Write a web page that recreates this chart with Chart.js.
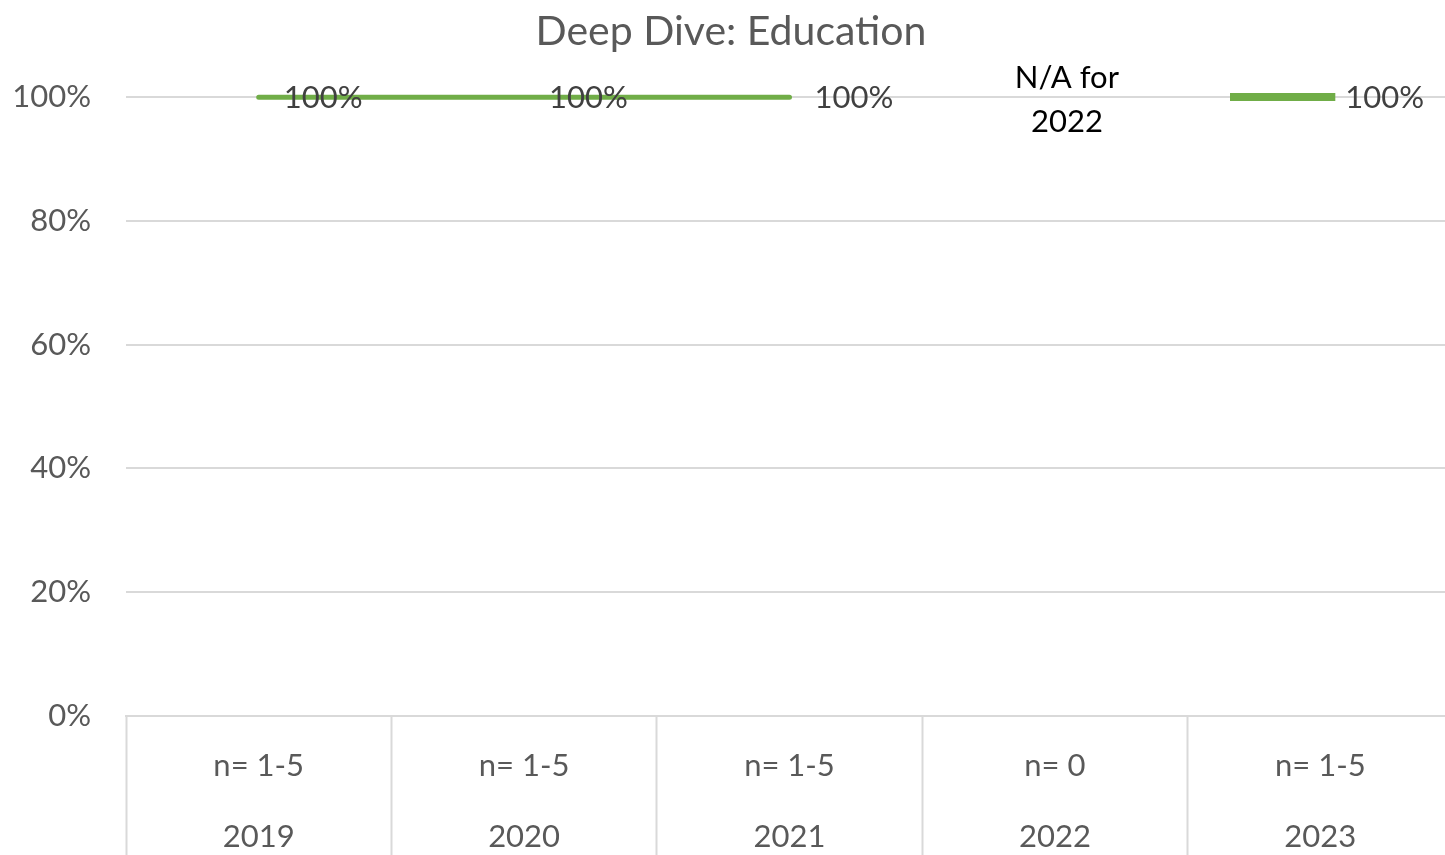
<!DOCTYPE html>
<html>
<head>
<meta charset="utf-8">
<title>Deep Dive: Education</title>
<script src="https://cdn.jsdelivr.net/npm/chart.js@4.4.1/dist/chart.umd.min.js"></script>
<style>
  html, body { margin: 0; padding: 0; background: #ffffff; overflow: hidden; }
  #wrap { width: 1445px; height: 855px; overflow: hidden; }
</style>
</head>
<body>
<div id="wrap"><canvas id="eduChart" width="1462" height="855"></canvas></div>
<script>
// data
var years = ['2019', '2020', '2021', '2022', '2023'];
var sampleSizes = ['n= 1-5', 'n= 1-5', 'n= 1-5', 'n= 0', 'n= 1-5'];
var shareValues = [1, 1, 1, null, 1];
var naNote = ['N/A for', '2022'];
var naYear = '2022';

var GREEN = '#70ad47';
var GREY = '#595959';
var GRID = '#d9d9d9';
var FONT = 'Lato';

// two-level category labels
var xLabels = years.map(function (y, i) { return [sampleSizes[i], y]; });

// dash marker used for the lone 2023 point (drawn mostly left of the point, like the original)
var dash = document.createElement('canvas');
dash.width = 180;
dash.height = 8;
var dctx = dash.getContext('2d');
dctx.fillStyle = GREEN;
dctx.fillRect(0, 0, 105, 8);

// value labels + the N/A note
var labelPlugin = {
    id: 'valueLabels',
    afterDatasetsDraw: function (chart) {
        var ctx = chart.ctx;
        var meta = chart.getDatasetMeta(0);
        ctx.save();
        ctx.font = '31px ' + FONT;
        ctx.textBaseline = 'middle';
        ctx.textAlign = 'left';
        ctx.fillStyle = '#404040';
        meta.data.forEach(function (pt, i) {
            var v = shareValues[i];
            if (v === null) return;
            ctx.fillText(Math.round(v * 100) + '%', pt.x + 25, pt.y + 1);
        });
        // note for the missing year
        var xs = chart.scales.x;
        var ys = chart.scales.y;
        var nx = xs.getPixelForValue(years.indexOf(naYear)) + 12;
        var ny = ys.getPixelForValue(1);
        ctx.textAlign = 'center';
        ctx.fillStyle = '#000000';
        ctx.fillText(naNote[0], nx, ny - 19);
        ctx.fillText(naNote[1], nx, ny + 25);
        ctx.restore();
    }
};

var ctx = document.getElementById('eduChart');

if (ctx) {
    var eduChart = new Chart(ctx, {
        type: 'line',
        data: {
            labels: xLabels,
            datasets: [{
                label: 'Education',
                data: shareValues,
                borderColor: GREEN,
                backgroundColor: GREEN,
                borderWidth: 5,
                borderCapStyle: 'round',
                spanGaps: false,
                tension: 0,
                clip: false,
                pointStyle: function (c) { return c.dataIndex === 4 ? dash : 'circle'; },
                pointRadius: function (c) { return c.dataIndex === 4 ? 4 : 0; },
                pointHoverRadius: 0
            }]
        },
        options: {
            responsive: false,
            animation: false,
            layout: { padding: 0 },
            scales: {
                x: {
                    offset: true,
                    grid: {
                        offset: true,
                        drawOnChartArea: false,
                        drawTicks: true,
                        tickLength: 139,
                        tickColor: GRID,
                        tickWidth: 2
                    },
                    border: { display: true, color: GRID, width: 2 },
                    ticks: {
                        color: GREY,
                        padding: -125,
                        maxRotation: 0,
                        autoSkip: false,
                        font: { family: FONT, size: 31, lineHeight: 2.3 }
                    },
                    afterFit: function (scale) { scale.height = 139; }
                },
                y: {
                    min: 0,
                    max: 1,
                    grid: {
                        color: GRID,
                        lineWidth: 2,
                        drawTicks: false
                    },
                    border: { display: false },
                    ticks: {
                        stepSize: 0.2,
                        color: GREY,
                        padding: 35,
                        font: { family: FONT, size: 31 },
                        callback: function (v) { return Math.round(v * 100) + '%'; }
                    },
                    afterFit: function (scale) { scale.width = 126; }
                }
            },
            plugins: {
                legend: { display: false },
                tooltip: { enabled: false },
                title: {
                    display: true,
                    text: 'Deep Dive: Education',
                    color: GREY,
                    font: { family: FONT, size: 41, weight: 'normal', lineHeight: 1.2 },
                    padding: { top: 7, bottom: 41 }
                }
            }
        },
        plugins: [labelPlugin]
    });
} else {
    console.error("Canvas element with ID 'eduChart' not found.");
}
</script>
</body>
</html>
